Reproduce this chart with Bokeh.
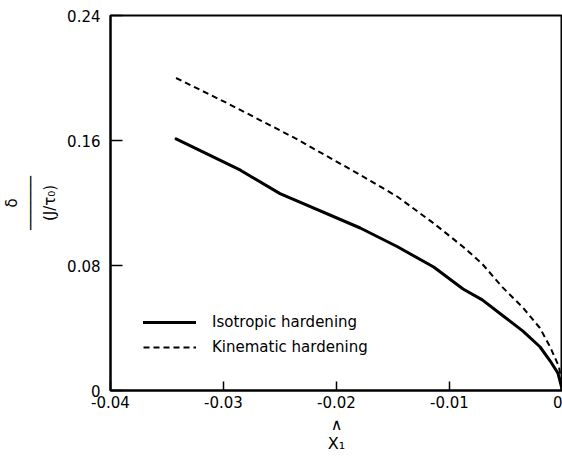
from bokeh.plotting import figure
from bokeh.models import Range1d, FixedTicker, Legend, LegendItem
from bokeh.embed import file_html
from bokeh.resources import INLINE

# Data
iso_x = [-0.0342, -0.0285, -0.0250, -0.0179, -0.0146, -0.0114, -0.0088, -0.0071,
         -0.0053, -0.0035, -0.0020, -0.0011, -0.0004, 0.0]
iso_y = [0.161, 0.141, 0.126, 0.104, 0.092, 0.079, 0.065, 0.058,
         0.048, 0.038, 0.028, 0.019, 0.011, 0.0]

kin_x = [-0.0342, -0.0297, -0.0238, -0.0179, -0.0146, -0.0114, -0.0088, -0.0071,
         -0.0053, -0.0035, -0.0020, -0.0011, -0.0003, 0.0]
kin_y = [0.200, 0.184, 0.162, 0.138, 0.124, 0.107, 0.092, 0.081,
         0.066, 0.053, 0.040, 0.028, 0.015, 0.0]

x_ticks = [-0.04, -0.03, -0.02, -0.01, 0.0]
x_tick_labels = ["-0.04", "-0.03", "-0.02", "-0.01", "0"]
y_ticks = [0.0, 0.08, 0.16, 0.24]
y_tick_labels = ["0", "0.08", "0.16", "0.24"]

series_names = ["Isotropic hardening", "Kinematic hardening"]

FONT = "DejaVu Sans"

p = figure(width=562, height=456,
           x_range=Range1d(-0.04, 0.0), y_range=Range1d(0.0, 0.24),
           output_backend="svg", toolbar_location=None,
           min_border_left=110, min_border_right=0,
           min_border_top=15, min_border_bottom=66)

p.xgrid.visible = False
p.ygrid.visible = False
p.outline_line_color = "black"
p.outline_line_width = 2
p.background_fill_color = "white"
p.border_fill_color = "white"

r_iso = p.line(iso_x, iso_y, line_color="black", line_width=3, line_cap="round")
r_kin = p.line(kin_x, kin_y, line_color="black", line_width=2, line_dash="6 4")

for ax in (p.xaxis[0], p.yaxis[0]):
    ax.axis_line_width = 2
    ax.axis_line_color = "black"
    ax.major_tick_line_width = 1.5
    ax.major_tick_line_color = "black"
    ax.major_tick_out = 0
    ax.minor_tick_line_color = None
    ax.major_label_text_font = FONT
    ax.major_label_text_font_size = "15px"
    ax.major_label_text_color = "black"
    ax.axis_label_text_color = "black"
    ax.axis_label_text_font = FONT
    ax.axis_label_text_font_style = "normal"

p.xaxis[0].ticker = FixedTicker(ticks=x_ticks)
p.xaxis[0].major_label_overrides = {t: l for t, l in zip(x_ticks, x_tick_labels)}
p.xaxis[0].major_tick_in = 9
p.xaxis[0].major_label_standoff = 5

p.yaxis[0].ticker = FixedTicker(ticks=y_ticks)
p.yaxis[0].major_label_overrides = {t: l for t, l in zip(y_ticks, y_tick_labels)}
p.yaxis[0].major_tick_in = 12
p.yaxis[0].major_label_standoff = 10

p.xaxis[0].axis_label = "∧\nX₁"
p.xaxis[0].axis_label_text_font_size = "16px"
p.xaxis[0].axis_label_text_line_height = 1.0
p.xaxis[0].axis_label_standoff = 4

# y-axis label: the fraction  delta / (J/tau0), rotated
p.yaxis[0].axis_label = "δ\n──────\n(J/τ₀)"
p.yaxis[0].axis_label_text_font_size = "15px"
p.yaxis[0].axis_label_text_line_height = 1.05
p.yaxis[0].axis_label_standoff = 5

legend = Legend(items=[LegendItem(label=series_names[0], renderers=[r_iso]),
                       LegendItem(label=series_names[1], renderers=[r_kin])],
                location=(33, 33), padding=0, margin=0, spacing=5,
                glyph_width=53, glyph_height=20, label_height=20,
                label_standoff=16, border_line_color=None,
                background_fill_alpha=0,
                label_text_font=FONT, label_text_font_size="15px",
                label_text_color="black")
p.add_layout(legend)

open("out.html", "w").write(file_html(p, INLINE))
